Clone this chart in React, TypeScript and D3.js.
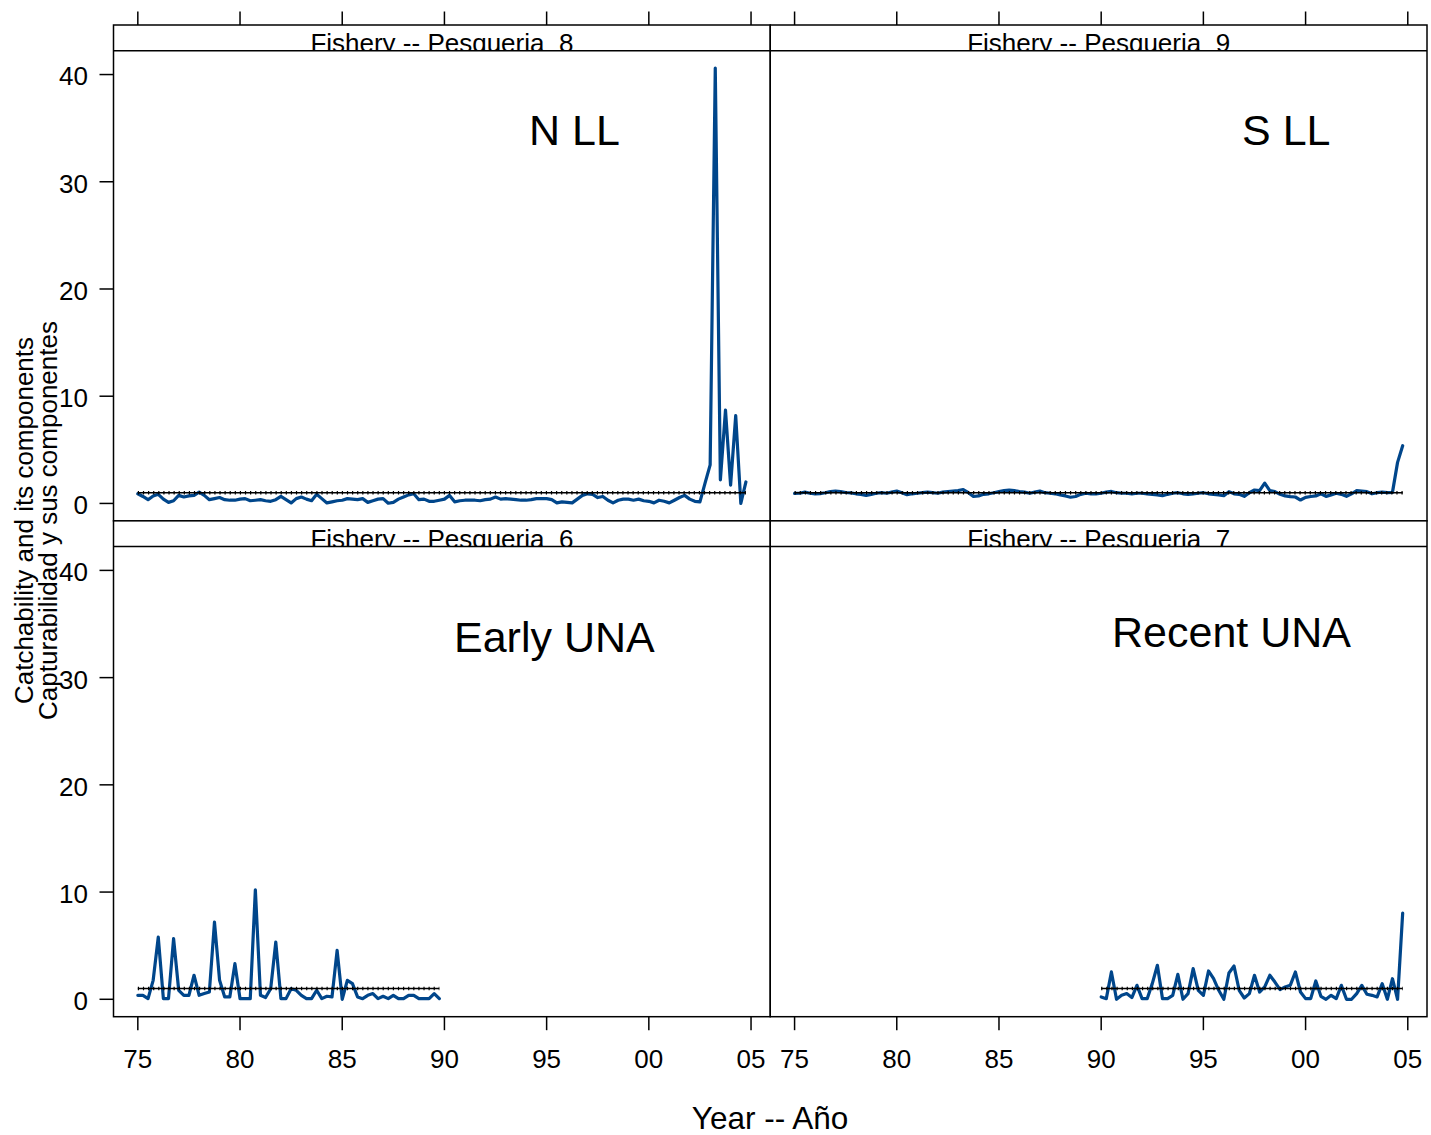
import React from "react";
import * as d3 from "d3";

// ---------- data (quarterly catchability series) ----------
const FISHERY_8_START = 1975;
const FISHERY_8 = [
  0.9, 0.65, 0.35, 0.7, 0.85, 0.4, 0.1, 0.25, 0.75, 0.6,
  0.7, 0.75, 1.05, 0.75, 0.35, 0.45, 0.55, 0.35, 0.3, 0.3,
  0.4, 0.45, 0.25, 0.3, 0.35, 0.25, 0.2, 0.35, 0.65, 0.35,
  0.05, 0.45, 0.6, 0.4, 0.25, 0.85, 0.45, 0.05, 0.15, 0.25,
  0.3, 0.45, 0.4, 0.35, 0.45, 0.1, 0.25, 0.4, 0.45, 0.02,
  0.1, 0.4, 0.6, 0.8, 0.9, 0.35, 0.4, 0.2, 0.2, 0.3,
  0.4, 0.75, 0.15, 0.25, 0.3, 0.3, 0.3, 0.25, 0.35, 0.4,
  0.6, 0.4, 0.45, 0.4, 0.35, 0.3, 0.3, 0.35, 0.45, 0.45,
  0.45, 0.35, 0.05, 0.15, 0.1, 0.05, 0.4, 0.75, 0.9, 0.85,
  0.55, 0.65, 0.3, 0.05, 0.3, 0.4, 0.4, 0.3, 0.4, 0.25,
  0.2, 0.05, 0.3, 0.2, 0.05, 0.3, 0.55, 0.75, 0.4, 0.2,
  0.15, 1.9, 3.6, 40.6, 2.2, 8.7, 1.7, 8.2, 0.0, 2.0,
];

const FISHERY_9_START = 1975;
const FISHERY_9 = [
  0.93, 0.95, 1.05, 0.95, 0.9, 0.92, 1.0, 1.1, 1.15, 1.1,
  1.02, 0.98, 0.9, 0.85, 0.75, 0.85, 0.95, 1.0, 0.95, 1.05,
  1.15, 1.0, 0.82, 0.9, 0.95, 1.0, 1.05, 1.0, 0.95, 1.05,
  1.1, 1.15, 1.2, 1.3, 1.0, 0.65, 0.7, 0.85, 0.9, 1.0,
  1.1, 1.2, 1.25, 1.2, 1.1, 1.05, 0.95, 1.05, 1.15, 1.0,
  0.95, 0.9, 0.8, 0.7, 0.58, 0.65, 0.85, 0.95, 0.9, 0.9,
  0.95, 1.05, 1.12, 1.0, 0.95, 0.95, 0.9, 0.95, 0.95, 0.9,
  0.85, 0.8, 0.72, 0.85, 0.95, 1.0, 0.9, 0.85, 0.9, 0.95,
  1.0, 0.9, 0.85, 0.8, 0.72, 1.1, 0.9, 0.85, 0.66, 1.0,
  1.25, 1.19, 1.9, 1.19, 1.1, 0.85, 0.7, 0.63, 0.6, 0.32,
  0.57, 0.65, 0.7, 0.9, 0.66, 0.8, 0.95, 0.85, 0.66, 0.9,
  1.19, 1.15, 1.1, 0.9, 1.0, 1.05, 1.0, 1.03, 3.83, 5.38,
];

const FISHERY_6_START = 1975;
const FISHERY_6 = [
  0.37, 0.37, 0.06, 1.77, 5.8, 0.06, 0.06, 5.65, 0.84, 0.37,
  0.37, 2.24, 0.37, 0.53, 0.68, 7.2, 1.77, 0.22, 0.22, 3.32,
  0.06, 0.06, 0.06, 10.2, 0.37, 0.16, 0.99, 5.34, 0.06, 0.06,
  0.99, 0.84, 0.37, 0.06, 0.06, 0.84, 0.06, 0.28, 0.22, 4.56,
  0.0, 1.77, 1.46, 0.22, 0.06, 0.37, 0.53, 0.06, 0.28, 0.06,
  0.37, 0.06, 0.06, 0.37, 0.37, 0.06, 0.06, 0.06, 0.53, 0.06,
];

const FISHERY_7_START = 1990;
const FISHERY_7 = [
  0.22, 0.06, 2.55, 0.0, 0.37, 0.53, 0.16, 1.3, 0.06, 0.06,
  1.46, 3.17, 0.06, 0.06, 0.37, 2.33, 0.0, 0.53, 2.86, 0.84,
  0.37, 2.64, 1.92, 0.84, 0.0, 2.45, 3.1, 0.84, 0.12, 0.53,
  2.24, 0.68, 1.15, 2.24, 1.61, 0.9, 1.15, 1.3, 2.55, 0.68,
  0.06, 0.06, 1.71, 0.28, 0.0, 0.37, 0.06, 1.3, 0.0, 0.0,
  0.53, 1.3, 0.47, 0.37, 0.22, 1.46, 0.0, 1.92, 0.0, 8.04,
];

const REF_VALUE = 1;

const STRIP_LABELS = [
  "Fishery -- Pesqueria  8",
  "Fishery -- Pesqueria  9",
  "Fishery -- Pesqueria  6",
  "Fishery -- Pesqueria  7",
];
const PANEL_LABELS = ["N LL", "S LL", "Early UNA", "Recent UNA"];

const X_TICKS = [1975, 1980, 1985, 1990, 1995, 2000, 2005];
const X_TICK_LABELS = ["75", "80", "85", "90", "95", "00", "05"];
const Y_TICKS = [0, 10, 20, 30, 40];
const Y_TICK_LABELS = ["0", "10", "20", "30", "40"];

const X_TITLE = "Year -- Año";
const Y_TITLE_1 = "Catchability and its components";
const Y_TITLE_2 = "Capturabilidad y sus componentes";

// ---------- layout ----------
const W = 1431;
const H = 1135;
const FONT = "'Liberation Sans', Arial, Helvetica, sans-serif";
const LINE_COLOR = "#00468B";
const COL_X = [113.5, 770.25];
const COL_W = 656.75;
const ROW_TOP = [25, 520.85];
const STRIP_H = 25.7;
const PLOT_H = 470.15;

type Series = { start: number; values: number[] };
const toPoints = (s: Series) => s.values.map((v, i) => ({ t: s.start + i / 4, v }));

const panels = [
  { series: { start: FISHERY_8_START, values: FISHERY_8 }, col: 0, row: 0, strip: STRIP_LABELS[0], label: PANEL_LABELS[0], lx: 529, ly: 145 },
  { series: { start: FISHERY_9_START, values: FISHERY_9 }, col: 1, row: 0, strip: STRIP_LABELS[1], label: PANEL_LABELS[1], lx: 1242, ly: 145 },
  { series: { start: FISHERY_6_START, values: FISHERY_6 }, col: 0, row: 1, strip: STRIP_LABELS[2], label: PANEL_LABELS[2], lx: 454, ly: 652 },
  { series: { start: FISHERY_7_START, values: FISHERY_7 }, col: 1, row: 1, strip: STRIP_LABELS[3], label: PANEL_LABELS[3], lx: 1112, ly: 647 },
];

export default function App() {
  const allPts = panels.flatMap((p) => toPoints(p.series));
  const tExt = d3.extent(allPts, (d) => d.t) as [number, number];
  const vExt = d3.extent(allPts, (d) => d.v) as [number, number];
  const tPad = (tExt[1] - tExt[0]) * 0.04;
  const vPad = (vExt[1] - vExt[0]) * 0.04;
  const xDomain: [number, number] = [tExt[0] - tPad, tExt[1] + tPad];
  const yDomain: [number, number] = [vExt[0] - vPad, vExt[1] + vPad];

  return (
    <svg
      width={W}
      height={H}
      style={{ position: "absolute", left: 0, top: 0, background: "#fff" }}
      fontFamily={FONT}
    >
      <rect x={0} y={0} width={W} height={H} fill="#fff" />
      {panels.map((p, pi) => {
        const x0 = COL_X[p.col];
        const stripTop = ROW_TOP[p.row];
        const plotTop = stripTop + STRIP_H;
        const plotBottom = plotTop + PLOT_H;
        const x = d3.scaleLinear().domain(xDomain).range([x0, x0 + COL_W]);
        const y = d3.scaleLinear().domain(yDomain).range([plotBottom, plotTop]);
        const pts = toPoints(p.series);
        const line = d3
          .line<{ t: number; v: number }>()
          .x((d) => x(d.t))
          .y((d) => y(d.v));
        const tFirst = pts[0].t;
        const tLast = pts[pts.length - 1].t;
        const clipId = `strip-clip-${pi}`;
        const plotClip = `plot-clip-${pi}`;
        return (
          <g key={pi}>
            <defs>
              <clipPath id={clipId}>
                <rect x={x0} y={stripTop} width={COL_W} height={STRIP_H} />
              </clipPath>
              <clipPath id={plotClip}>
                <rect x={x0} y={plotTop} width={COL_W} height={PLOT_H} />
              </clipPath>
            </defs>
            {/* strip */}
            <rect x={x0} y={stripTop} width={COL_W} height={STRIP_H} fill="#fff" stroke="none" />
            <text
              x={x0 + COL_W / 2}
              y={stripTop + STRIP_H + 1.2}
              textAnchor="middle"
              fontSize={26}
              clipPath={`url(#${clipId})`}
              fill="#000"
              style={{ whiteSpace: "pre" }}
            >
              {p.strip}
            </text>
            {/* data */}
            <g clipPath={`url(#${plotClip})`}>
              <path
                d={line(pts) || ""}
                fill="none"
                stroke={LINE_COLOR}
                strokeWidth={3.2}
                strokeLinejoin="round"
                strokeLinecap="round"
              />
              <line x1={x(tFirst)} x2={x(tLast)} y1={y(REF_VALUE)} y2={y(REF_VALUE)} stroke="#000" strokeWidth={1.6} />
              <line
                x1={x(tFirst)}
                x2={x(tLast)}
                y1={y(REF_VALUE)}
                y2={y(REF_VALUE)}
                stroke="#000"
                strokeWidth={3.5}
                strokeDasharray="1.2 3.9"
              />
            </g>
            <text x={p.lx} y={p.ly} fontSize={43} fill="#000">
              {p.label}
            </text>
            {/* borders */}
            <rect x={x0} y={stripTop} width={COL_W} height={STRIP_H + PLOT_H} fill="none" stroke="#000" strokeWidth={1.5} />
            <line x1={x0} x2={x0 + COL_W} y1={plotTop} y2={plotTop} stroke="#000" strokeWidth={1.5} />
            {/* top ticks */}
            {p.row === 0 &&
              X_TICKS.map((t) => (
                <line key={`tt${t}`} x1={x(t)} x2={x(t)} y1={stripTop} y2={stripTop - 13.5} stroke="#000" strokeWidth={1.5} />
              ))}
            {/* bottom ticks */}
            {p.row === 1 &&
              X_TICKS.map((t, i) => (
                <g key={`bt${t}`}>
                  <line x1={x(t)} x2={x(t)} y1={plotBottom} y2={plotBottom + 13.5} stroke="#000" strokeWidth={1.5} />
                  <text x={x(t)} y={plotBottom + 51} textAnchor="middle" fontSize={26} fill="#000">
                    {X_TICK_LABELS[i]}
                  </text>
                </g>
              ))}
            {/* left ticks */}
            {p.col === 0 &&
              Y_TICKS.map((v, i) => (
                <g key={`yt${v}`}>
                  <line x1={x0} x2={x0 - 14} y1={y(v)} y2={y(v)} stroke="#000" strokeWidth={1.5} />
                  <text x={88} y={y(v)} dy="0.42em" textAnchor="end" fontSize={26} fill="#000">
                    {Y_TICK_LABELS[i]}
                  </text>
                </g>
              ))}
          </g>
        );
      })}
      <text x={770} y={1129} textAnchor="middle" fontSize={31.5} fill="#000">
        {X_TITLE}
      </text>
      <text transform="translate(32.5,520.5) rotate(-90)" textAnchor="middle" fontSize={26} fill="#000">
        {Y_TITLE_1}
      </text>
      <text transform="translate(57,520.5) rotate(-90)" textAnchor="middle" fontSize={26} fill="#000">
        {Y_TITLE_2}
      </text>
    </svg>
  );
}
